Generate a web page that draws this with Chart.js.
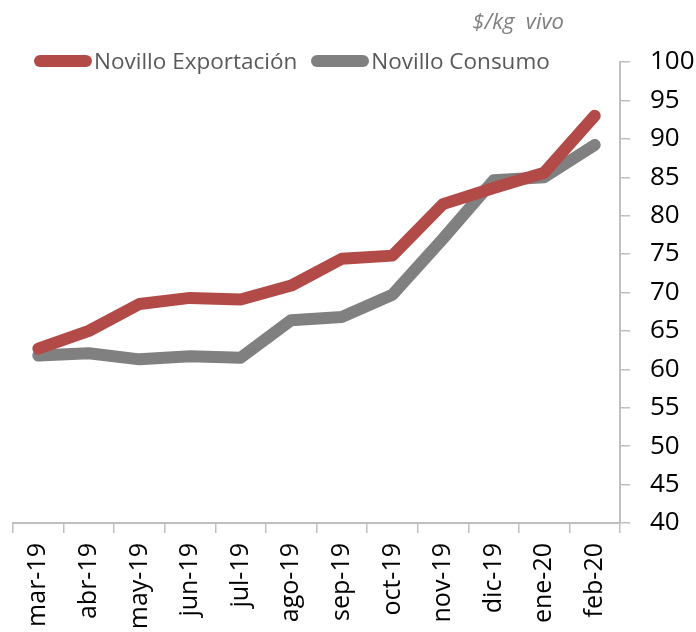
<!DOCTYPE html>
<html>
<head>
<meta charset="utf-8">
<script src="https://cdn.jsdelivr.net/npm/chart.js@4"></script>
<style>
  html, body { margin: 0; padding: 0; background: #fff; }
  #wrap { position: relative; width: 696px; height: 632px; font-family: "Open Sans", sans-serif; }
  #unit { position: absolute; right: 132px; top: 5px; font-size: 22px; font-style: italic; color: #808080; white-space: nowrap; }
  #legend { position: absolute; left: 34px; top: 45px; display: flex; align-items: center; font-size: 22.5px; color: #595959; white-space: nowrap; }
  .key { display: inline-block; width: 58px; height: 12px; border-radius: 6px; margin-right: 2px; }
  .item { display: flex; align-items: center; margin-right: 14px; }
</style>
</head>
<body>
<div id="wrap">
  <canvas id="chart" width="696" height="632"></canvas>
  <div id="unit">$/kg&nbsp; vivo</div>
  <div id="legend">
    <div class="item"><span class="key" style="background:#B24A47"></span>Novillo Exportación</div>
    <div class="item"><span class="key" style="background:#808080"></span>Novillo Consumo</div>
  </div>
</div>
<script>
// months shown on the x axis
const months = ['mar-19', 'abr-19', 'may-19', 'jun-19', 'jul-19', 'ago-19',
                'sep-19', 'oct-19', 'nov-19', 'dic-19', 'ene-20', 'feb-20'];

// $/kg vivo
const exportacion = [62.7, 65.0, 68.5, 69.3, 69.1, 70.9, 74.4, 74.8, 81.5, 83.6, 85.6, 93.0];
const consumo     = [61.8, 62.1, 61.3, 61.7, 61.5, 66.4, 66.8, 69.7, 77.0, 84.6, 85.0, 89.2];

const RED  = '#B24A47';
const GREY = '#808080';
const AXIS = '#BFBFBF';

const lineStyle = {
  borderWidth: 12,
  borderCapStyle: 'round',
  borderJoinStyle: 'round',
  pointRadius: 0,
  tension: 0,
  fill: false,
};

new Chart(document.getElementById('chart'), {
  type: 'line',
  data: {
    labels: months,
    datasets: [
      { label: 'Novillo Exportación', data: exportacion, borderColor: RED, backgroundColor: RED, ...lineStyle },
      { label: 'Novillo Consumo',     data: consumo,     borderColor: GREY, backgroundColor: GREY, ...lineStyle },
    ],
  },
  options: {
    responsive: false,
    animation: false,
    layout: { padding: { left: 13, top: 62, right: 0, bottom: 0 } },
    plugins: {
      legend: { display: false },
      tooltip: { enabled: false },
    },
    scales: {
      x: {
        offset: true,
        afterFit: s => { s.height = 109; },
        grid: { display: true, offset: true, drawOnChartArea: false, tickLength: 10, color: AXIS, lineWidth: 1.5 },
        border: { color: AXIS, width: 2 },
        ticks: { color: '#000', maxRotation: 90, minRotation: 90, padding: 10,
                 font: { family: 'Open Sans', size: 25 } },
      },
      y: {
        position: 'right',
        min: 40,
        max: 100,
        afterFit: s => { s.width = 76; },
        grid: { drawOnChartArea: false, tickLength: 10, color: AXIS, lineWidth: 1.5 },
        border: { color: AXIS, width: 2 },
        ticks: { stepSize: 5, color: '#000', padding: 20,
                 font: { family: 'Open Sans', size: 26 } },
      },
    },
  },
});
</script>
</body>
</html>
